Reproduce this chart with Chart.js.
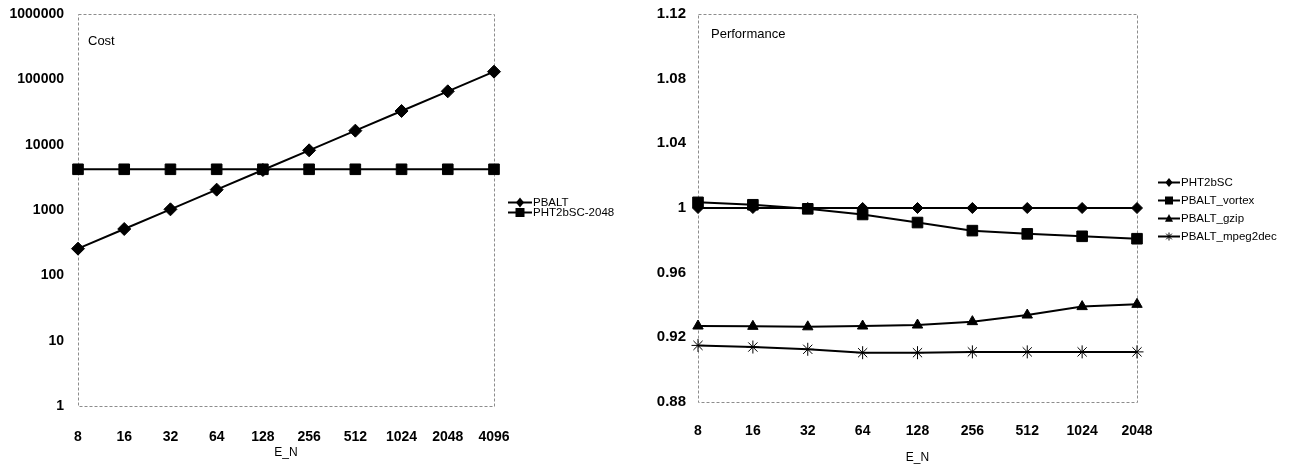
<!DOCTYPE html>
<html><head><meta charset="utf-8">
<script src="https://cdn.jsdelivr.net/npm/chart.js@4"></script>
<style>
html,body{margin:0;padding:0;background:#fff;}
#wrap{position:relative;width:1292px;height:468px;overflow:hidden;}
#c1{position:absolute;left:0;top:0;}
#c2{position:absolute;left:640px;top:0;}
</style></head><body>
<div id="wrap"><canvas id="c1" width="640" height="468"></canvas><canvas id="c2" width="652" height="468"></canvas></div>
<script>
// ---- data ----
const costCategories = ['8','16','32','64','128','256','512','1024','2048','4096'];
const costPBALT = [256,512,1024,2048,4096,8192,16384,32768,65536,131072];
const costPHT2bSC2048 = [4200,4200,4200,4200,4200,4200,4200,4200,4200,4200];
const costTicks = [1,10,100,1000,10000,100000,1000000];

const perfCategories = ['8','16','32','64','128','256','512','1024','2048'];
const perfPHT2bSC = [1,1,1,1,1,1,1,1,1];
const perfVortex = [1.0035,1.002,0.9995,0.996,0.991,0.986,0.984,0.9825,0.981];
const perfGzip = [0.927,0.9268,0.9265,0.927,0.9276,0.9297,0.9338,0.939,0.9404];
const perfMpeg = [0.915,0.914,0.9126,0.9105,0.9105,0.911,0.911,0.911,0.911];
const perfTicks = [0.88,0.92,0.96,1,1.04,1.08,1.12];

const FONT = '"Liberation Sans", Arial, sans-serif';

function legendMarker(ctx, style, x, y, r){
  ctx.beginPath();
  if(style==='rectRot'){
    ctx.moveTo(x, y-r*1.1); ctx.lineTo(x+r*0.9, y); ctx.lineTo(x, y+r*1.1); ctx.lineTo(x-r*0.9, y); ctx.closePath(); ctx.fill();
  } else if(style==='rect'){
    ctx.rect(x-r, y-r, 2*r, 2*r); ctx.fill();
  } else if(style==='triangle'){
    ctx.moveTo(x, y-r*1.1); ctx.lineTo(x+r, y+r*0.8); ctx.lineTo(x-r, y+r*0.8); ctx.closePath(); ctx.fill();
  } else if(style==='star'){
    ctx.lineWidth = 1;
    for(let k=0;k<4;k++){
      const a = k*Math.PI/4;
      ctx.moveTo(x - Math.sin(a)*r, y - Math.cos(a)*r);
      ctx.lineTo(x + Math.sin(a)*r, y + Math.cos(a)*r);
    }
    ctx.stroke();
  }
}

function deco(cfg){
  return {
    id: 'deco',
    beforeDatasetsDraw(chart){
      const {ctx, chartArea:a} = chart;
      ctx.save();
      ctx.strokeStyle = '#8c8c8c';
      ctx.lineWidth = 1;
      ctx.setLineDash([3,2]);
      ctx.strokeRect(Math.round(a.left)+0.5, Math.round(a.top)+0.5, Math.round(a.right-a.left), Math.round(a.bottom-a.top));
      ctx.restore();
      ctx.save();
      ctx.fillStyle = '#000';
      ctx.font = '13px ' + FONT;
      ctx.textBaseline = 'middle';
      ctx.textAlign = 'left';
      ctx.fillText(cfg.title, a.left + cfg.tx, a.top + cfg.ty);
      ctx.restore();
    },
    afterDraw(chart){
      const {ctx, chartArea:a} = chart;
      const ds = chart.data.datasets;
      const n = ds.length;
      const cy = (a.top + a.bottom)/2 + cfg.ly;
      ctx.save();
      ctx.font = '11.5px ' + FONT;
      ctx.textBaseline = 'middle';
      ctx.textAlign = 'left';
      ds.forEach((d,i)=>{
        const y = Math.round(cy + (i - (n-1)/2)*cfg.spacing) + 0.5;
        const x0 = a.right + cfg.lx0, x1 = a.right + cfg.lx1;
        ctx.strokeStyle = '#000'; ctx.fillStyle = '#000';
        ctx.lineWidth = 2;
        ctx.beginPath(); ctx.moveTo(x0, y); ctx.lineTo(x1, y); ctx.stroke();
        legendMarker(ctx, d.pointStyle, (x0+x1)/2, y, cfg.mr);
        ctx.fillStyle = '#000';
        ctx.fillText(d.label, a.right + cfg.tx0, y);
      });
      ctx.restore();
    }
  };
}

function ds(label, data, style, r, extra){
  return Object.assign({
    label, data,
    borderColor:'#000', backgroundColor:'#000',
    borderWidth:2, tension:0,
    pointStyle:style, pointRadius:r, pointHoverRadius:r,
    pointBackgroundColor:'#000', pointBorderColor:'#000', pointBorderWidth:1,
    clip:false
  }, extra||{});
}

function commonOpts(o){
  return {
    responsive:false, animation:false, devicePixelRatio:1,
    layout:{padding:o.padding},
    plugins:{legend:{display:false}, tooltip:{enabled:false}},
    scales:{
      x:{
        type:'category', offset:false,
        grid:{display:false, drawTicks:false}, border:{display:false},
        ticks:{color:'#000', font:{family:FONT,size:14,weight:'bold'}, padding:o.xpad, autoSkip:false, maxRotation:0},
        title:{display:true, text:'E_N', color:'#000', font:{family:FONT,size:12}, padding:{top:0,bottom:o.tpad}},
        afterFit(s){ s.height = o.xh; s.paddingLeft = 0; s.paddingRight = 0; }
      },
      y: Object.assign({
        grid:{display:false, drawTicks:false}, border:{display:false},
        ticks:{color:'#000', font:{family:FONT,size:o.yfs,weight:'bold'}, padding:o.ypad},
        afterFit(s){ s.width = o.yw; s.paddingTop = 0; s.paddingBottom = 0; }
      }, o.y)
    }
  };
}

new Chart(document.getElementById('c1'), {
  type:'line',
  data:{
    labels:costCategories,
    datasets:[
      ds('PBALT', costPBALT, 'rectRot', 6.5),
      ds('PHT2bSC-2048', costPHT2bSC2048, 'rect', 7.5)
    ]
  },
  options: commonOpts({
    padding:{left:0, top:14, right:146, bottom:0},
    xpad:23, tpad:8, xh:62, yw:78, ypad:14, yfs:14,
    y:{
      type:'logarithmic', min:1, max:1000000,
      afterBuildTicks(s){ s.ticks = costTicks.map(v=>({value:v})); }
    }
  }),
  plugins:[deco({title:'Cost', tx:10, ty:27, ly:-3, spacing:10, lx0:14, lx1:38, tx0:39, mr:4.5})]
});
(function(){
  const c = Chart.getChart('c1');
  c.options.scales.y.ticks.callback = v => String(v);
  c.update('none');
})();

new Chart(document.getElementById('c2'), {
  type:'line',
  data:{
    labels:perfCategories,
    datasets:[
      ds('PHT2bSC', perfPHT2bSC, 'rectRot', 5.5),
      ds('PBALT_vortex', perfVortex, 'rect', 7.5),
      ds('PBALT_gzip', perfGzip, 'triangle', 6),
      ds('PBALT_mpeg2dec', perfMpeg, 'star', 6.5, {pointBackgroundColor:'rgba(0,0,0,0)'})
    ]
  },
  options: commonOpts({
    padding:{left:0, top:14, right:155, bottom:0},
    xpad:21, tpad:3, xh:66, yw:58, ypad:12, yfs:15,
    y:{
      type:'linear', min:0.88, max:1.12,
      afterBuildTicks(s){ s.ticks = perfTicks.map(v=>({value:v})); }
    }
  }),
  plugins:[deco({title:'Performance', tx:13, ty:20, ly:1, spacing:18, lx0:21, lx1:43, tx0:44, mr:4})]
});
(function(){
  const c = Chart.getChart('c2');
  c.options.scales.y.ticks.callback = v => String(Math.round(v*100)/100);
  c.update('none');
})();
</script>
</body></html>
